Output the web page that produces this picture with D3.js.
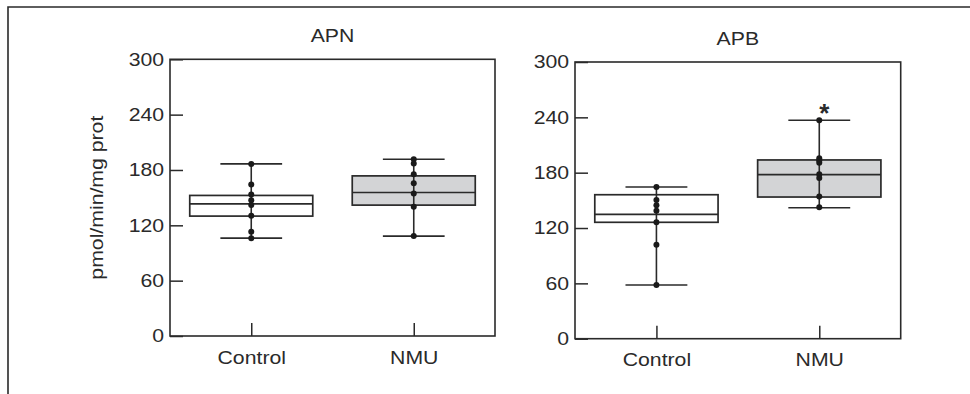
<!DOCTYPE html>
<html><head><meta charset="utf-8">
<script src="https://cdn.jsdelivr.net/npm/d3@7"></script>
<style>body{margin:0;background:#fff} svg{display:block}</style>
</head><body><svg id="c" width="970" height="394"></svg>
<script>
const categories = ["Control", "NMU"];
const panelTitles = ["APN", "APB"];
const yTicks = [0, 60, 120, 180, 240, 300];
const yLabel = "pmol/min/mg prot";
// individual data points
const apnControl = [186.6, 164.3, 153.5, 147.3, 141.9, 130.3, 113.0, 106.1];
const apnNMU = [191.7, 187.0, 175.5, 165.7, 154.5, 140.0, 108.3];
const apbControl = [164.4, 150.4, 144.6, 138.8, 126.2, 101.9, 58.2];
const apbNMU = [236.8, 195.6, 193.2, 190.8, 178.2, 174.2, 154.2, 142.5];
// box stats: [min, q1, median, q3, max]
const apnControlBox = [106.1, 130.0, 143.3, 152.4, 186.6];
const apnNMUBox = [108.3, 141.9, 155.6, 173.6, 191.7];
const apbControlBox = [58.2, 126.2, 134.9, 156.1, 164.5];
const apbNMUBox = [142.0, 153.6, 177.8, 193.8, 236.8];
const significance = ["", "*"]; // marker above NMU per panel

const panelsData = [
  { title: panelTitles[0], points: [apnControl, apnNMU], boxes: [apnControlBox, apnNMUBox], sig: [null, null] },
  { title: panelTitles[1], points: [apbControl, apbNMU], boxes: [apbControlBox, apbNMUBox], sig: [null, significance[1]] }
];
const layout = [
  { x: 170, y: 59.3, w: 325, h: 276.7 },
  { x: 575, y: 62, w: 325.7, h: 276.7 }
];
const fills = ["#ffffff", "#d3d4d6"];
const ink = "#2a2a2a";
const FONT = "'Liberation Sans', Arial, sans-serif";
const SX = 1.18;

const svg = d3.select("#c");
svg.append("path").attr("d", "M8,394V7H970").attr("fill", "none").attr("stroke", ink).attr("stroke-width", 1.6);

function stretchedText(g, x, y, txt, anchor, size, rot) {
  return g.append("text")
    .attr("transform", `translate(${x},${y})` + (rot ? ` rotate(${rot})` : "") + ` scale(${SX},1)`)
    .attr("text-anchor", anchor)
    .attr("font-family", FONT).attr("font-size", size).attr("fill", ink)
    .text(txt);
}

panelsData.forEach((p, i) => {
  const L = layout[i];
  const g = svg.append("g").attr("transform", `translate(${L.x},${L.y})`);
  const y = d3.scaleLinear().domain([0, 300]).range([L.h, 0]);
  const x = d3.scalePoint().domain(categories).range([0, L.w]).padding(0.5);
  const step = x.step();

  // axes
  const ya = d3.axisLeft(y).tickValues(yTicks).tickSize(-13).tickSizeOuter(0).tickPadding(5);
  const yg = g.append("g").call(ya);
  yg.select(".domain").remove();
  yg.selectAll(".tick line").attr("stroke", ink).attr("stroke-width", 1.5);
  yg.selectAll(".tick text").attr("font-family", FONT).attr("font-size", 18).attr("fill", ink)
    .attr("transform", `scale(${SX},1)`);

  const xa = d3.axisBottom(x).tickSize(-13).tickSizeOuter(0).tickPadding(15);
  const xg = g.append("g").attr("transform", `translate(0,${L.h})`).call(xa);
  xg.select(".domain").remove();
  xg.selectAll(".tick line").attr("stroke", ink).attr("stroke-width", 1.5);
  xg.selectAll(".tick text").attr("font-family", FONT).attr("font-size", 18).attr("fill", ink)
    .attr("transform", `scale(${SX},1)`);

  g.append("rect").attr("width", L.w).attr("height", L.h).attr("fill", "none")
    .attr("stroke", ink).attr("stroke-width", 1.6);

  stretchedText(g, L.w / 2, -17, p.title, "middle", 18);

  if (i === 0) stretchedText(g, -67, L.h / 2, yLabel, "middle", 18, -90);

  categories.forEach((c, j) => {
    const cx = x(c);
    const b = p.boxes[j];
    const bw = step * 0.757, cw = step * 0.38;
    // whisker line
    g.append("line").attr("x1", cx).attr("x2", cx).attr("y1", y(b[0])).attr("y2", y(b[4]))
      .attr("stroke", ink).attr("stroke-width", 1.6);
    // box
    g.append("rect").attr("x", cx - bw / 2).attr("width", bw)
      .attr("y", y(b[3])).attr("height", y(b[1]) - y(b[3]))
      .attr("fill", fills[j]).attr("stroke", ink).attr("stroke-width", 1.7);
    g.append("line").attr("x1", cx).attr("x2", cx).attr("y1", y(b[1])).attr("y2", y(b[3]))
      .attr("stroke", ink).attr("stroke-width", 1.6);
    // median
    g.append("line").attr("x1", cx - bw / 2).attr("x2", cx + bw / 2).attr("y1", y(b[2])).attr("y2", y(b[2]))
      .attr("stroke", ink).attr("stroke-width", 1.7);
    // caps
    [b[0], b[4]].forEach(v => {
      g.append("line").attr("x1", cx - cw / 2).attr("x2", cx + cw / 2).attr("y1", y(v)).attr("y2", y(v))
        .attr("stroke", ink).attr("stroke-width", 1.6);
    });
    // points
    g.selectAll(null).data(p.points[j]).enter().append("circle")
      .attr("cx", cx).attr("cy", d => y(d)).attr("r", 3).attr("fill", "#1a1a1a");
    if (p.sig[j]) {
      g.append("text").attr("x", cx + 5).attr("y", y(b[4]) + 1.5)
        .attr("text-anchor", "middle").attr("font-family", FONT).attr("font-size", 26)
        .attr("font-weight", "bold").attr("fill", ink).text(p.sig[j]);
    }
  });
});
</script></body></html>
